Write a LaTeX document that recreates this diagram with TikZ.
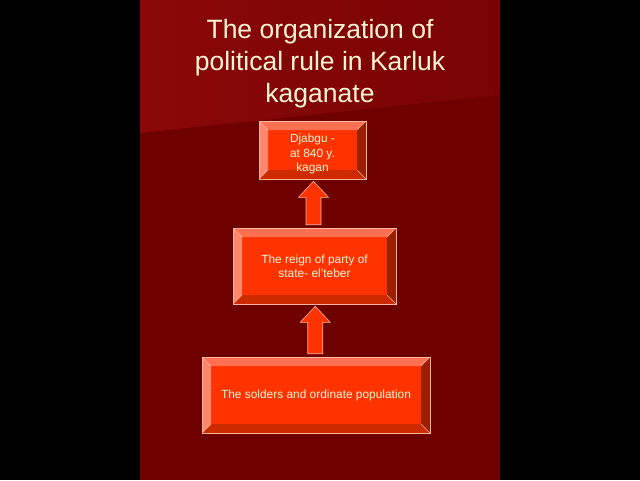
\documentclass[tikz,border=0pt]{standalone}
\usepackage{fontspec}
\setmainfont{Liberation Sans}
\usetikzlibrary{calc}

\definecolor{panel}{RGB}{110,0,0}
\definecolor{panelhi}{RGB}{138,8,8}
\definecolor{face}{RGB}{255,51,0}
\definecolor{bevtop}{RGB}{255,112,82}
\definecolor{bevleft}{RGB}{255,135,108}
\definecolor{bevright}{RGB}{155,32,0}
\definecolor{bevbot}{RGB}{205,42,0}
\definecolor{rim}{RGB}{255,180,160}
\definecolor{cream}{RGB}{255,244,214}

\newcommand{\bev}{9pt}

\begin{document}
\begin{tikzpicture}[x=1pt,y=-1pt,
	bevelbox/.style={rectangle, fill=face, draw=rim, line width=0.6pt, text=cream,
		font=\fontsize{11.9}{14.5}\selectfont, align=center, inner sep=0pt,
		path picture={
			\coordinate (nw) at (path picture bounding box.north west);
			\coordinate (ne) at (path picture bounding box.north east);
			\coordinate (sw) at (path picture bounding box.south west);
			\coordinate (se) at (path picture bounding box.south east);
			\coordinate (inw) at ([xshift=\bev,yshift=-\bev]nw);
			\coordinate (ine) at ([xshift=-\bev,yshift=-\bev]ne);
			\coordinate (isw) at ([xshift=\bev,yshift=\bev]sw);
			\coordinate (ise) at ([xshift=-\bev,yshift=\bev]se);
			\fill[bevtop] (nw) -- (ne) -- (ine) -- (inw) -- cycle;
			\fill[bevleft] (nw) -- (inw) -- (isw) -- (sw) -- cycle;
			\fill[bevright] (ne) -- (se) -- (ise) -- (ine) -- cycle;
			\fill[bevbot] (sw) -- (se) -- (ise) -- (isw) -- cycle;
			\draw[rim, line width=0.5pt] (nw) -- (inw) (ne) -- (ine) (sw) -- (isw) (se) -- (ise);
		}},
	blockarrow/.style={fill=face, draw=rim, line width=0.6pt, line join=miter}]

	% background
	\fill[black] (0,0) rectangle (640,480);
	\fill[panel] (140,0) rectangle (500,480);
	\shade[left color=panelhi, right color=panel!60!panelhi] (140,0) -- (500,0) -- (500,95) -- (140,133) -- cycle;
	\useasboundingbox (0,0) rectangle (640,480);

	\node[text=cream, font=\fontsize{26.5}{32}\selectfont, align=center, anchor=north] (title) at (320,16) {The organization of\\political rule in Karluk\\kaganate};

	\node[bevelbox, minimum width=107pt, minimum height=58pt] (kagan) at (312.5,150) {\rule{0pt}{17pt}Djabgu -\\at 840 y.\\kagan};
	\node[bevelbox, minimum width=163pt, minimum height=76pt] (reign) at (314.5,266) {The reign of party of\\state- el'teber};
	\node[bevelbox, minimum width=228pt, minimum height=76pt] (soldiers) at (316,395) {The solders and ordinate population};

	% up arrows
	\draw[blockarrow] let \p1=(reign.north), \p2=(kagan.south), \n1={(\x1+\x2)/2} in
		(\n1-7.5pt,\y1+3pt) -- (\n1+7.5pt,\y1+3pt) -- (\n1+7.5pt,\y2-18pt) -- (\n1+15pt,\y2-18pt)
		-- (\n1,\y2-2pt) -- (\n1-15pt,\y2-18pt) -- (\n1-7.5pt,\y2-18pt) -- cycle;
	\draw[blockarrow] let \p1=(soldiers.north), \p2=(reign.south), \n1={(\x1+\x2)/2} in
		(\n1-7.5pt,\y1+3pt) -- (\n1+7.5pt,\y1+3pt) -- (\n1+7.5pt,\y2-18pt) -- (\n1+15pt,\y2-18pt)
		-- (\n1,\y2-2pt) -- (\n1-15pt,\y2-18pt) -- (\n1-7.5pt,\y2-18pt) -- cycle;
\end{tikzpicture}
\end{document}
